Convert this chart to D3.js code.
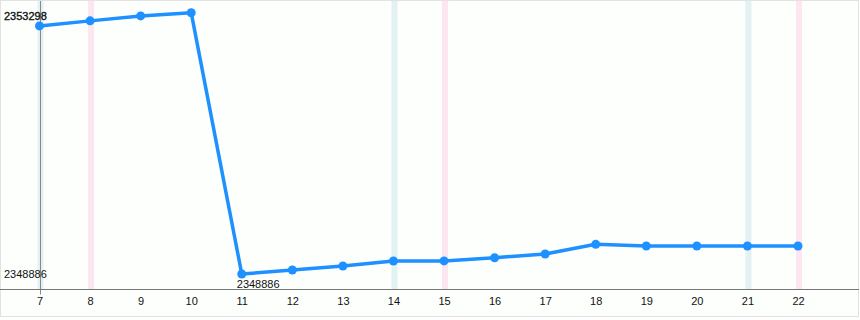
<!DOCTYPE html>
<html>
<head>
    <meta charset="utf-8">
    <title>Line</title>
    <script src="https://d3js.org/d3.v7.min.js"></script>
    <style>
        body { margin: 0; background: #fff; }
        text { font-family: "Liberation Sans", Arial, sans-serif; font-size: 11px; fill: #111; }
    </style>
</head>
<body>
<div id="chart"></div>
<script type="text/javascript">
    // dias do mês e valores
    let days = [7, 8, 9, 10, 11, 12, 13, 14, 15, 16, 17, 18, 19, 20, 21, 22];
    let values = [2353075, 2353160, 2353244, 2353298, 2348886, 2348953, 2349021, 2349105,
                  2349107, 2349161, 2349223, 2349387, 2349358, 2349358, 2349358, 2349358];
    let saturdays = [7, 14, 21];
    let sundays = [8, 15, 22];

    let W = 860, H = 320;
    let axisY = 289.5;

    let svg = d3.select("#chart")
            .append("svg")
                .attr("width", W)
                .attr("height", H);

    svg.append("rect")
        .attr("x", 0.5).attr("y", 0.5)
        .attr("width", 858).attr("height", 316)
        .attr("fill", "#fcfffc")
        .attr("stroke", "#e2e2e2");

    let xScale = d3.scaleLinear()
                .domain([d3.min(days), d3.max(days)])
                .range([39.5, 798]);

    let yMin = d3.min(values), yMax = d3.max(values);
    let yScale = d3.scaleLinear()
                .domain([yMin, yMax])
                .range([274, 12.7]);

    // faixas dos fins de semana
    svg.selectAll("rect.sat")
        .data(saturdays)
        .enter()
        .append("rect")
        .attr("class", "sat")
        .attr("x", d => xScale(d) - 2)
        .attr("y", 1)
        .attr("width", 6)
        .attr("height", axisY - 1)
        .attr("fill", "#e3f1f3");

    svg.selectAll("rect.sun")
        .data(sundays)
        .enter()
        .append("rect")
        .attr("class", "sun")
        .attr("x", d => xScale(d) - 2)
        .attr("y", 1)
        .attr("width", 6)
        .attr("height", axisY - 1)
        .attr("fill", "#fde6ef");

    // eixo vertical
    svg.append("line")
        .attr("x1", 40.5).attr("x2", 40.5)
        .attr("y1", 1).attr("y2", axisY + 5)
        .attr("stroke", "#888");

    let xAxis = d3.axisBottom()
                .scale(xScale)
                .tickValues(days)
                .tickFormat(d3.format("d"))
                .tickSize(0)
                .tickPadding(8);

    let gx = svg.append("g")
        .attr("transform", "translate(0," + axisY + ")")
        .call(xAxis);
    gx.select(".domain").remove();
    gx.selectAll("text").style("font-size", "11px").attr("fill", "#111");

    svg.append("line")
        .attr("x1", 0).attr("x2", 859)
        .attr("y1", axisY).attr("y2", axisY)
        .attr("stroke", "#777");

    let line = d3.line()
        .x((d, i) => xScale(days[i]))
        .y(d => yScale(d));

    svg.append("path")
        .datum(values)
        .attr("d", line)
        .attr("fill", "none")
        .attr("stroke", "#1e90ff")
        .attr("stroke-width", 3.5)
        .attr("stroke-linejoin", "round");

    svg.selectAll("circle")
        .data(values)
        .enter()
        .append("circle")
        .attr("cx", (d, i) => xScale(days[i]))
        .attr("cy", d => yScale(d))
        .attr("r", 4.5)
        .attr("fill", "#1e90ff");

    // rótulos de máximo e mínimo
    svg.append("text")
        .attr("x", 4).attr("y", 20)
        .attr("stroke", "#111")
        .attr("stroke-width", 0.35)
        .text(yMax);

    svg.append("text")
        .attr("x", 4).attr("y", yScale(yMin) + 4)
        .text(yMin);

    let iMin = values.indexOf(yMin);
    svg.append("text")
        .attr("x", xScale(days[iMin]) - 5)
        .attr("y", yScale(yMin) + 14)
        .text(yMin);
</script>
</body>
</html>
